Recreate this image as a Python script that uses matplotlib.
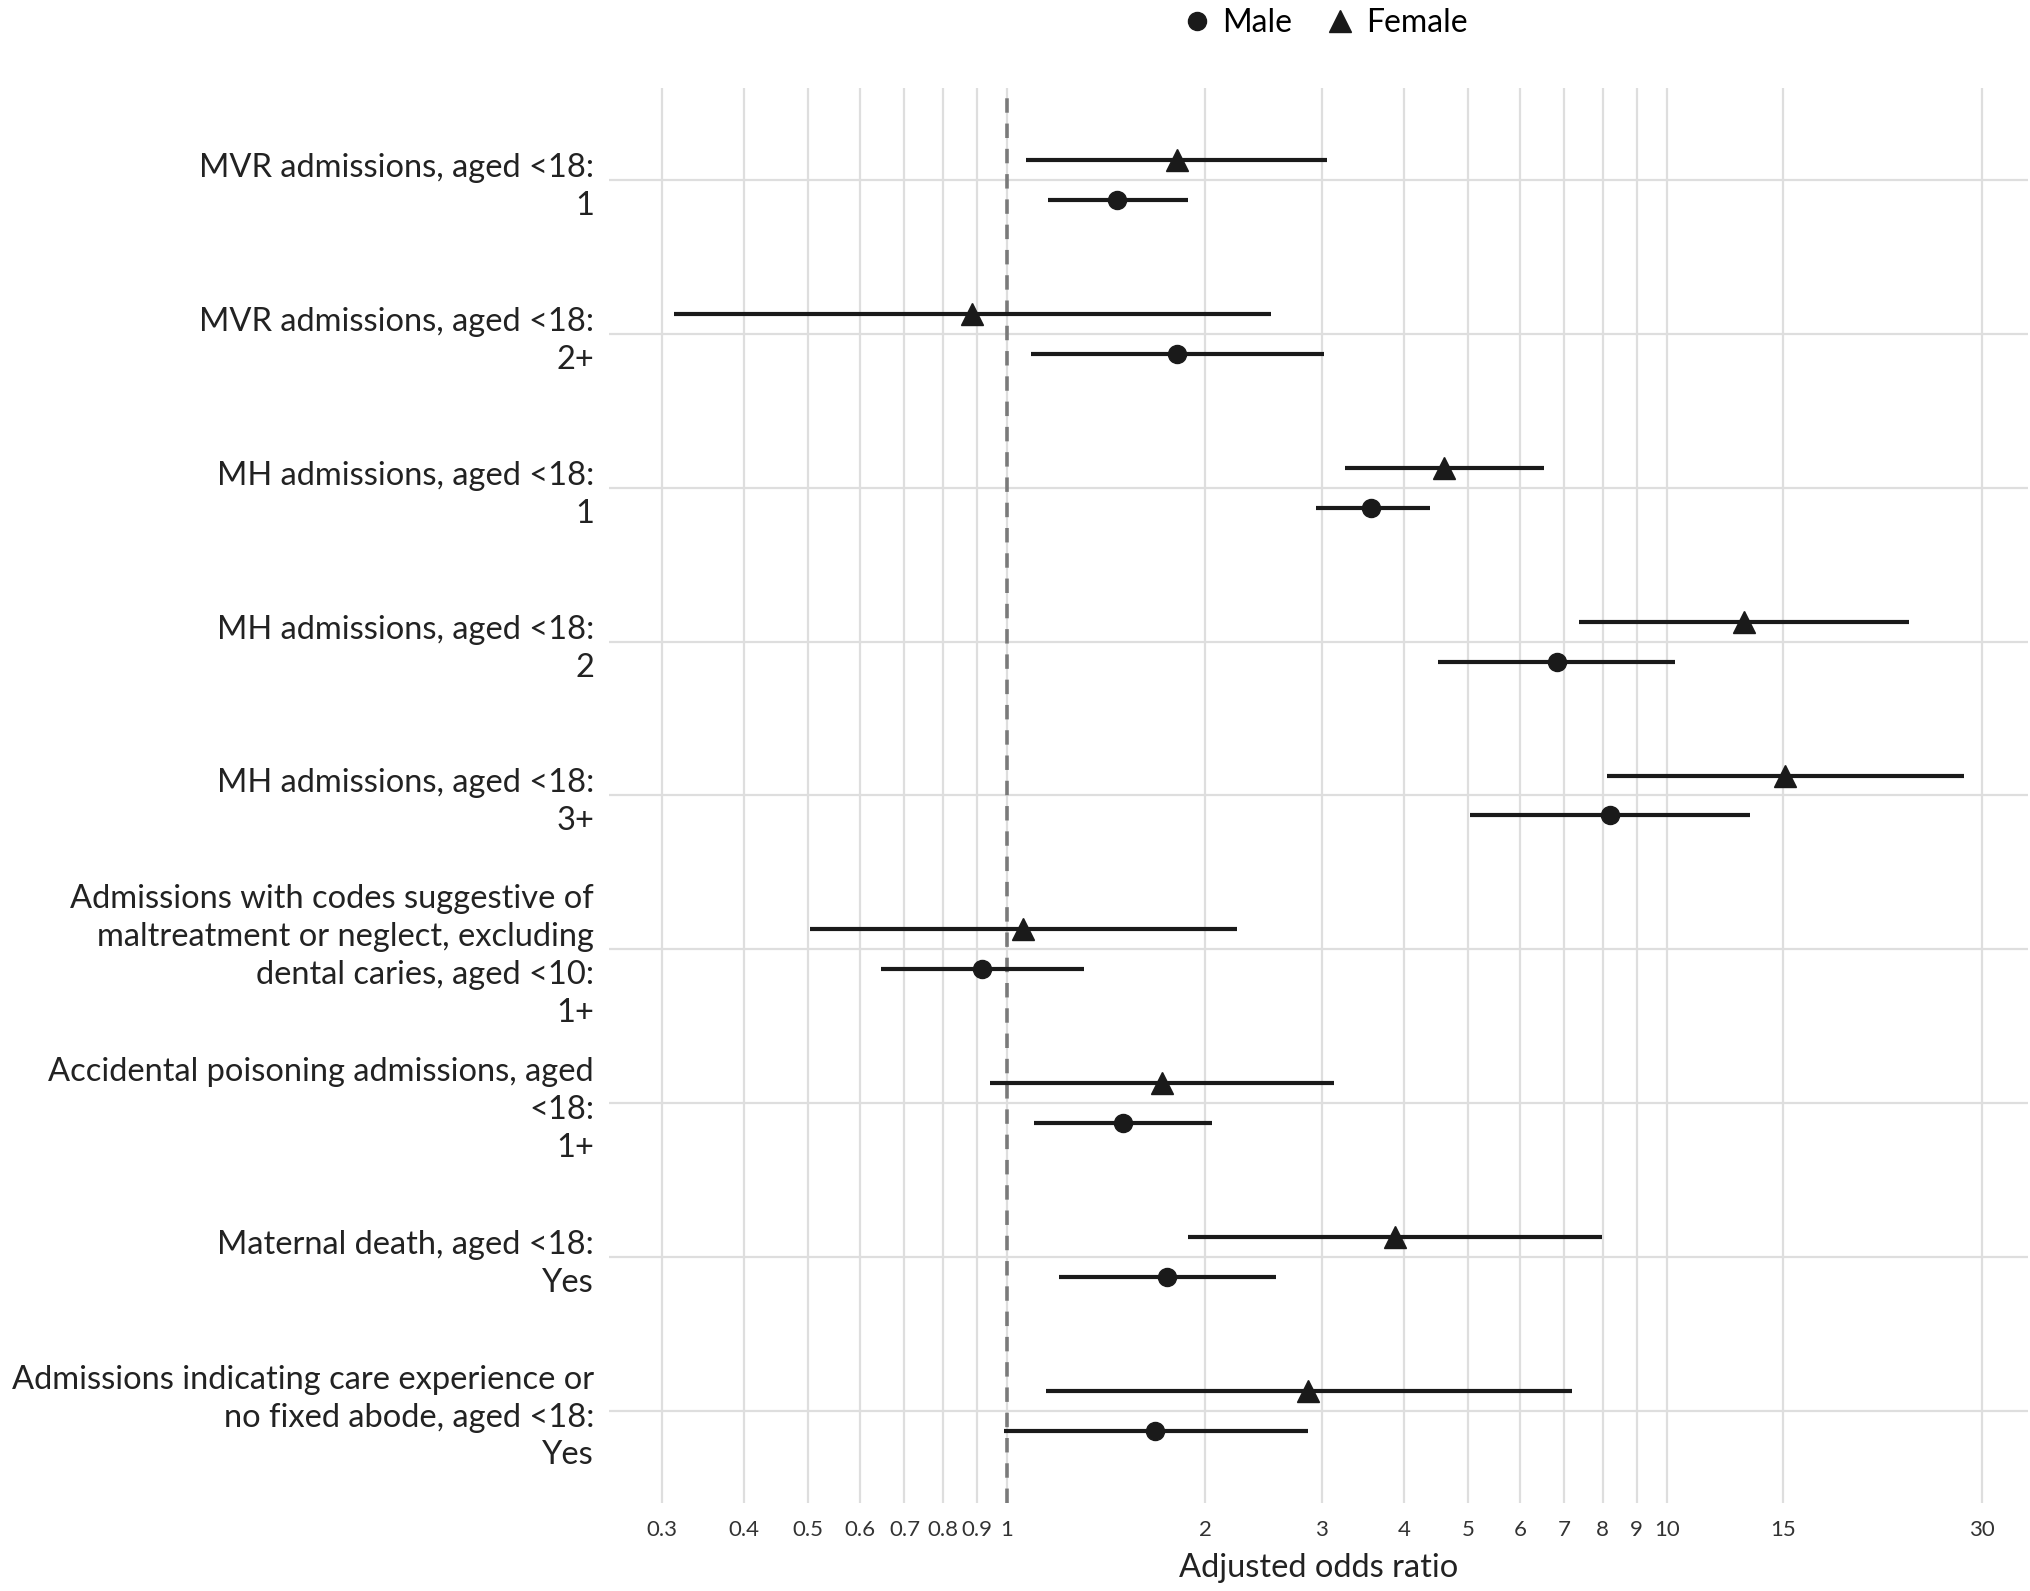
import matplotlib
matplotlib.use("Agg")
import matplotlib.pyplot as plt
from matplotlib.lines import Line2D
import numpy as np

plt.rcParams['font.family'] = ['Lato', 'DejaVu Sans']

labels = [
    "MVR admissions, aged <18:\n1",
    "MVR admissions, aged <18:\n2+",
    "MH admissions, aged <18:\n1",
    "MH admissions, aged <18:\n2",
    "MH admissions, aged <18:\n3+",
    "Admissions with codes suggestive of\nmaltreatment or neglect, excluding\ndental caries, aged <10:\n1+",
    "Accidental poisoning admissions, aged\n<18:\n1+",
    "Maternal death, aged <18:\nYes",
    "Admissions indicating care experience or\nno fixed abode, aged <18:\nYes",
]

female_or = [1.81, 0.885, 4.60, 13.1, 15.1, 1.06, 1.72, 3.87, 2.86]
female_lo = [1.07, 0.313, 3.26, 7.36, 8.13, 0.503, 0.943, 1.88, 1.145]
female_hi = [3.06, 2.51, 6.51, 23.3, 28.2, 2.23, 3.13, 7.98, 7.19]

male_or = [1.47, 1.81, 3.57, 6.81, 8.2, 0.918, 1.50, 1.75, 1.68]
male_lo = [1.155, 1.09, 2.94, 4.50, 5.03, 0.645, 1.10, 1.20, 0.99]
male_hi = [1.88, 3.02, 4.38, 10.3, 13.35, 1.31, 2.05, 2.56, 2.86]

xticks = [0.3, 0.4, 0.5, 0.6, 0.7, 0.8, 0.9, 1, 2, 3, 4, 5, 6, 7, 8, 9, 10, 15, 30]
xtick_labels = ["0.3", "0.4", "0.5", "0.6", "0.7", "0.8", "0.9", "1", "2", "3", "4",
                "5", "6", "7", "8", "9", "10", "15", "30"]

fig = plt.figure(figsize=(20.31, 15.91), dpi=100)
ax = fig.add_axes([0.30, 0.0554, 0.6987, 0.8892])

n = len(labels)
ypos = np.arange(n)[::-1]
dodge = 0.13
ink = '#1a1a1a'

ax.axvline(1, color='#7a7a7a', lw=2.6, ls=(0, (4, 3)), zorder=2)

for y, lo, hi, v in zip(ypos + dodge, female_lo, female_hi, female_or):
    ax.plot([lo, hi], [y, y], color=ink, lw=3.0, solid_capstyle='butt', zorder=3)
    ax.plot(v, y, marker='^', color=ink, ms=16, ls='none', zorder=4)
for y, lo, hi, v in zip(ypos - dodge, male_lo, male_hi, male_or):
    ax.plot([lo, hi], [y, y], color=ink, lw=3.0, solid_capstyle='butt', zorder=3)
    ax.plot(v, y, marker='o', color=ink, ms=13, ls='none', zorder=4)

ax.set_xscale('log')
lmin = np.log10(min(female_lo + male_lo))
lmax = np.log10(max(female_hi + male_hi))
pad = (lmax - lmin) * 0.05
ax.set_xlim(10 ** (lmin - pad), 10 ** (lmax + pad))
ax.set_ylim(-0.6, n - 1 + 0.6)

ax.set_xticks(xticks)
ax.set_xticklabels(xtick_labels, fontsize=16, color='#333333')
ax.xaxis.set_minor_locator(matplotlib.ticker.NullLocator())
ax.set_yticks(ypos)
ax.set_yticklabels(labels, fontsize=23.5, color='#222222', linespacing=1.33)

ax.grid(True, color='#dedede', lw=1.6, zorder=0)
ax.set_axisbelow(True)
for s in ax.spines.values():
    s.set_visible(False)
ax.tick_params(axis='both', length=0)
ax.tick_params(axis='x', pad=12)
ax.tick_params(axis='y', pad=11)

ax.set_xlabel("Adjusted odds ratio", fontsize=23.5, color='#222222', labelpad=10)

handles = [
    Line2D([], [], marker='o', color=ink, ls='none', ms=13),
    Line2D([], [], marker='^', color=ink, ls='none', ms=16),
]
fig.legend(handles, ["Male", "Female"], loc='upper center', bbox_to_anchor=(0.652, 1.013),
           ncol=2, frameon=False, fontsize=23, handletextpad=0.3, columnspacing=1.0,
           handlelength=1.0)

fig.savefig("out.png", dpi=100, facecolor='white')
